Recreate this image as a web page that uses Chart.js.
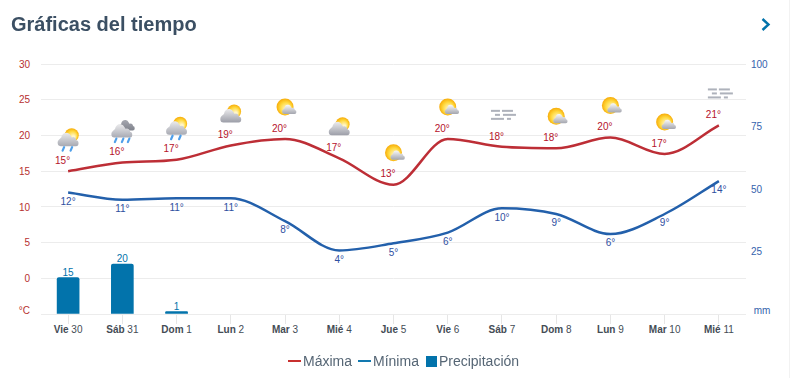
<!DOCTYPE html>
<html lang="es">
<head>
<meta charset="utf-8">
<title>Gráficas del tiempo</title>
<script src="https://cdn.jsdelivr.net/npm/chart.js@4"></script>
<style>
    html, body { margin: 0; padding: 0; background: #fff; }
    body { width: 790px; height: 378px; position: relative; overflow: hidden; font-family: "Liberation Sans", Arial, sans-serif; }
    h2 { position: absolute; left: 11px; top: 12px; margin: 0; font-size: 20px; line-height: 24px; font-weight: bold; color: #3b4f63; z-index: 2; }
    #next { position: absolute; left: 758px; top: 16px; z-index: 2; }
    #weatherChart { position: absolute; left: 0; top: 0; }
    #edge { position: absolute; left: 789px; top: 0; width: 1px; height: 378px; background: #f2f2f2; z-index: 1; }
    #legend { position: absolute; left: 288px; top: 352px; height: 18px; display: flex; align-items: center; font-size: 14px; color: #566675; z-index: 2; }
    #legend span.item { display: flex; align-items: center; margin-right: 5px; }
    #legend span.item:nth-child(2) { margin-right: 7px; }
    #legend i { display: block; margin-right: 2px; }
</style>
</head>
<body>
<h2>Gráficas del tiempo</h2>
<svg id="next" width="16" height="18"><polyline points="4.5,3 10.5,8.5 4.5,14" fill="none" stroke="#0273ab" stroke-width="2.4"/></svg>
<canvas id="weatherChart" width="790" height="378"></canvas>
<div id="edge"></div>
<div id="legend"></div>
<script>
const days = ['Vie', 'Sáb', 'Dom', 'Lun', 'Mar', 'Mié', 'Jue', 'Vie', 'Sáb', 'Dom', 'Lun', 'Mar', 'Mié'];
const dates = ['30', '31', '1', '2', '3', '4', '5', '6', '7', '8', '9', '10', '11'];
const tempMax = [15, 16.2, 16.6, 18.6, 19.5, 16.8, 13.1, 19.5, 18.4, 18.2, 19.7, 17.4, 21.4];
const tempMin = [12, 11, 11.2, 11.2, 8, 3.9, 4.9, 6.4, 9.8, 9, 6.2, 9, 13.6];
const rainfall = [14.6, 20, 1, null, null, null, null, null, null, null, null, null, null];
const skies = ['rainSun', 'rainCloud', 'rainSun', 'cloudSun', 'sunCloud', 'cloudSun', 'sunCloud', 'sunCloud', 'fog', 'sunCloud', 'sunCloud', 'sunCloud', 'fog'];
const legendColors = ['#c8302f', '#1279b0', '#0273ab'];

const RED_TEXT = '#b5122b';
const BLUE_TEXT = '#2f4f9f';
const BAR_BLUE = '#0273ab';

function cloud(ctx, x, y, s, top, bottom) {
    // x,y = left end of the flat base, s = scale
    ctx.save();
    ctx.translate(x, y);
    ctx.scale(s, s * 1.15);
    const g = ctx.createLinearGradient(0, -11, 0, 0);
    g.addColorStop(0, top);
    g.addColorStop(1, bottom);
    ctx.fillStyle = g;
    ctx.beginPath();
    ctx.moveTo(3, 0);
    ctx.arc(3, -3, 3, Math.PI / 2, Math.PI * 1.3);
    ctx.arc(8.5, -6.5, 5, Math.PI * 1.05, Math.PI * 1.85);
    ctx.arc(15, -4, 3.6, Math.PI * 1.4, Math.PI * 1.95);
    ctx.arc(18, -2.5, 2.5, Math.PI * 1.5, Math.PI / 2);
    ctx.closePath();
    ctx.fill();
    ctx.restore();
}

function sun(ctx, x, y, r) {
    const g = ctx.createRadialGradient(x + r * 0.25, y + r * 0.3, r * 0.2, x, y, r);
    g.addColorStop(0, '#fff6c8');
    g.addColorStop(0.6, '#ffd83c');
    g.addColorStop(1, '#f7ac08');
    ctx.fillStyle = g;
    ctx.beginPath();
    ctx.arc(x, y, r, 0, Math.PI * 2);
    ctx.fill();
}

function drops(ctx, xs, y) {
    ctx.strokeStyle = '#4f9fea';
    ctx.lineWidth = 2.2;
    ctx.lineCap = 'round';
    xs.forEach(x => {
        ctx.beginPath();
        ctx.moveTo(x + 1, y);
        ctx.lineTo(x - 0.5, y + 3.5);
        ctx.stroke();
    });
}

function fog(ctx, x, y) {
    ctx.fillStyle = '#aeb2bb';
    [[-11, -6, 9], [0, -6, 11], [-7, -2, 5], [1, -2, 13], [-11, 2, 13], [5, 2, 4]].forEach(b => {
        ctx.fillRect(x + b[0], y + b[1], b[2], 2);
    });
}

function drawSky(ctx, kind, x, y) {
    ctx.save();
    if (kind === 'rainSun') {
        sun(ctx, x + 3.6, y - 5, 7);
        cloud(ctx, x - 10.5, y + 6, 1.02, '#e8e8ea', '#a8aab3');
        drops(ctx, [x - 5, x + 3], y + 7);
    } else if (kind === 'rainCloud') {
        cloud(ctx, x - 4, y - 1, 0.8, '#a4a6ae', '#7f828c');
        cloud(ctx, x - 11, y + 6, 1.02, '#e8e8ea', '#a8aab3');
        drops(ctx, [x - 7, x, x + 6], y + 7);
    } else if (kind === 'cloudSun') {
        sun(ctx, x + 3.3, y - 3, 7);
        cloud(ctx, x - 10.5, y + 8, 1.02, '#e8e8ea', '#9c9ea8');
    } else if (kind === 'sunCloud') {
        sun(ctx, x, y - 1, 8.5);
        cloud(ctx, x - 3, y + 6, 0.7, '#f6f6f6', '#a4a6af');
    } else {
        fog(ctx, x, y);
    }
    ctx.restore();
}

// Temperature and rain labels, day names and weather icons
const annotations = {
    id: 'annotations',
    beforeDraw(chart) {
        chart.ctx.fillStyle = '#fff';
        chart.ctx.fillRect(0, 0, chart.width, chart.height);
    },
    afterDatasetsDraw(chart) {
        const ctx = chart.ctx;
        const maxPts = chart.getDatasetMeta(0).data;
        const minPts = chart.getDatasetMeta(1).data;
        const barPts = chart.getDatasetMeta(2).data;
        ctx.save();
        ctx.textAlign = 'center';
        ctx.textBaseline = 'middle';
        ctx.font = '10px "Liberation Sans"';
        tempMax.forEach((v, i) => {
            ctx.fillStyle = RED_TEXT;
            ctx.fillText(Math.round(v) + '°', maxPts[i].x - 5.5, maxPts[i].y - 10);
            ctx.fillStyle = BLUE_TEXT;
            ctx.fillText(Math.round(tempMin[i]) + '°', minPts[i].x, minPts[i].y + 9.5);
            drawSky(ctx, skies[i], maxPts[i].x, maxPts[i].y - 31);
        });
        ctx.fillStyle = BAR_BLUE;
        rainfall.forEach((v, i) => {
            if (v > 0) ctx.fillText(Math.round(v), barPts[i].x, barPts[i].y - 4.5);
        });
        ctx.restore();
    },
    afterDraw(chart) {
        const ctx = chart.ctx;
        const xScale = chart.scales.x;
        ctx.save();
        ctx.textBaseline = 'middle';
        ctx.textAlign = 'left';
        days.forEach((d, i) => {
            ctx.font = 'bold 10px "Liberation Sans"';
            const dayW = ctx.measureText(d + ' ').width;
            ctx.font = '10px "Liberation Sans"';
            const w = dayW + ctx.measureText(dates[i]).width;
            const left = xScale.getPixelForValue(i) - w / 2;
            ctx.fillStyle = '#444c55';
            ctx.font = 'bold 10px "Liberation Sans"';
            ctx.fillText(d, left, 330);
            ctx.font = '10px "Liberation Sans"';
            ctx.fillText(dates[i], left + dayW, 330);
        });
        ctx.restore();
    }
};

// Tick labels sit a pixel lower than Chart.js centres them; the unit ticks sit above their gridline
function lowered(text) {
    return ['', text];
}
function raised(text) {
    return [text, ''];
}

const canvas = document.getElementById('weatherChart');
canvas.getContext('2d', { alpha: false });

const weatherChart = new Chart(canvas, {
    type: 'bar',
    plugins: [annotations],
    data: {
        labels: days.map((d, i) => d + ' ' + dates[i]),
        datasets: [
            { type: 'line', label: 'Máxima', data: tempMax, yAxisID: 'y', borderColor: '#bd2e36', borderWidth: 2.5, pointRadius: 0, cubicInterpolationMode: 'monotone', order: 1 },
            { type: 'line', label: 'Mínima', data: tempMin, yAxisID: 'y', borderColor: '#2360ab', borderWidth: 2.5, pointRadius: 0, cubicInterpolationMode: 'monotone', order: 2 },
            { type: 'bar', label: 'Precipitación', data: rainfall, yAxisID: 'y2', backgroundColor: BAR_BLUE, barThickness: 22, borderRadius: { topLeft: 2, topRight: 2 }, borderSkipped: 'bottom', order: 3 }
        ]
    },
    options: {
        responsive: false,
        animation: false,
        layout: { padding: { top: 64, left: 0, right: 0, bottom: 0 } },
        plugins: { legend: { display: false }, tooltip: { enabled: false } },
        scales: {
            x: {
                offset: true,
                afterFit: scale => { scale.height = 64; },
                grid: { offset: false, drawOnChartArea: false, tickLength: 10, tickColor: '#e6e6e6' },
                border: { display: false },
                ticks: { color: 'rgba(0,0,0,0)', font: { size: 10 }, maxRotation: 0, autoSkip: false }
            },
            y: {
                position: 'left',
                min: -5,
                max: 30,
                afterFit: scale => { scale.width = 41; },
                grid: { color: '#ececec', drawTicks: false },
                border: { display: false },
                ticks: {
                    stepSize: 5,
                    padding: 11,
                    color: '#b7312f',
                    font: ctx => ({ family: '"Liberation Sans"', size: 10, lineHeight: ctx.tick && ctx.tick.value === -5 ? '6px' : '2px' }),
                    callback: v => v === -5 ? raised('°C') : lowered(String(v))
                }
            },
            y2: {
                position: 'right',
                min: 0,
                max: 100,
                afterFit: scale => { scale.width = 44; },
                grid: { drawOnChartArea: false, drawTicks: false },
                border: { display: false },
                ticks: {
                    stepSize: 25,
                    padding: 5,
                    color: '#3563ad',
                    font: ctx => ({ family: '"Liberation Sans"', size: 10, lineHeight: ctx.tick && ctx.tick.value === 0 ? '6px' : '2px' }),
                    callback: v => v === 0 ? raised(' mm') : lowered(String(v))
                }
            }
        }
    }
});

// Legend built from the chart's datasets
const legendBox = document.getElementById('legend');
weatherChart.data.datasets.forEach((ds, i) => {
    const item = document.createElement('span');
    item.className = 'item';
    if (i === 0) item.style.marginRight = '6px';
    const mark = document.createElement('i');
    mark.style.background = legendColors[i];
    mark.style.width = ds.type === 'bar' ? '11px' : '13px';
    mark.style.height = ds.type === 'bar' ? '11px' : '2px';
    item.appendChild(mark);
    item.appendChild(document.createTextNode(ds.label));
    legendBox.appendChild(item);
});
</script>
</body>
</html>
